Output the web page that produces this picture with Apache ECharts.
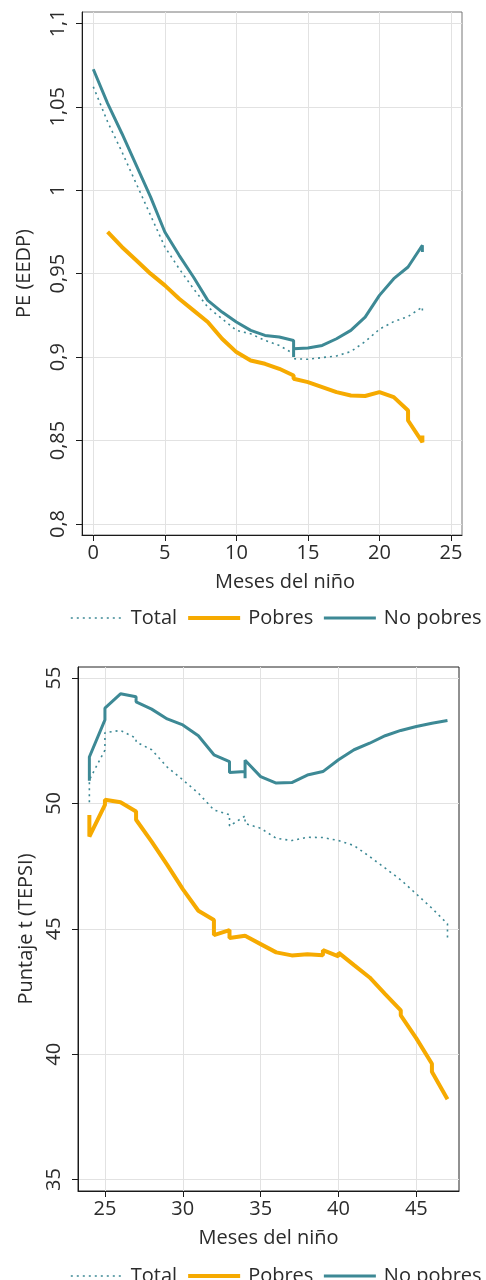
<!DOCTYPE html>
<html>
<head>
<meta charset="utf-8">
<script src="https://cdn.jsdelivr.net/npm/echarts@6/dist/echarts.min.js"></script>
<style>
html,body{margin:0;padding:0;background:#fff;}
#c{width:486px;height:1280px;}
</style>
</head>
<body>
<div id="c"></div>
<script>
// ---------- Top chart: PE (EEDP) ----------
var eedpTotalMonths   = [0,1,2,3,4,5,6,7,8,9,10,11,12,13,14,14,15,16,17,18,19,20,21,22,23,23];
var eedpTotalValues   = [1.062,1.041,1.023,1.004,0.985,0.966,0.953,0.941,0.930,0.923,0.916,0.914,0.910,0.907,0.902,0.899,0.8987,0.8997,0.9007,0.9033,0.9093,0.9167,0.9213,0.9243,0.930,0.9255];
var eedpPobresMonths  = [1,2,3,4,5,6,7,8,9,10,11,12,13,14,14,15,16,17,18,19,20,21,22,22,23,23];
var eedpPobresValues  = [0.975,0.966,0.958,0.950,0.943,0.935,0.928,0.921,0.911,0.903,0.898,0.896,0.893,0.889,0.887,0.885,0.882,0.879,0.877,0.8767,0.879,0.876,0.868,0.862,0.849,0.853];
var eedpNoPobresMonths = [0,1,2,3,4,5,6,7,8,9,10,11,12,13,14,14,14,15,16,17,18,19,20,21,22,23,23];
var eedpNoPobresValues = [1.0725,1.052,1.034,1.015,0.996,0.975,0.961,0.948,0.934,0.927,0.921,0.916,0.913,0.912,0.910,0.900,0.905,0.9055,0.907,0.911,0.916,0.924,0.937,0.947,0.954,0.967,0.963];
var eedpXTicks = [0,5,10,15,20,25];
var eedpYTicks = [0.8,0.85,0.9,0.95,1,1.05,1.1];

// ---------- Bottom chart: Puntaje t (TEPSI) ----------
var tepsiTotalMonths   = [24,24,25,25,26,27,27,28,29,30,31,32,33,33,34,34,35,36,37,38,39,40,41,42,43,44,45,46,47,47];
var tepsiTotalValues   = [50.05,50.94,52.13,52.82,52.91,52.6,52.45,52.14,51.45,50.94,50.41,49.74,49.55,49.1,49.5,49.2,49.01,48.61,48.52,48.65,48.64,48.52,48.32,47.88,47.42,46.95,46.39,45.82,45.2,44.6];
var tepsiPobresMonths  = [24,24,25,25,26,27,27,28,29,30,31,32,32,33,33,34,35,36,37,38,39,39,40,40,41,42,43,44,44,45,46,46,47];
var tepsiPobresValues  = [49.54,48.68,49.94,50.15,50.05,49.68,49.35,48.48,47.55,46.58,45.72,45.35,44.75,44.95,44.63,44.72,44.39,44.06,43.94,43.99,43.95,44.15,43.9,44.05,43.55,43.06,42.40,41.75,41.55,40.63,39.62,39.3,38.2];
var tepsiNoPobresMonths = [24,24,25,25,26,27,27,28,29,30,31,32,33,33,34,34,34,35,36,37,38,39,40,41,42,43,44,45,46,47];
var tepsiNoPobresValues = [50.9,51.85,53.33,53.8,54.37,54.25,54.05,53.76,53.37,53.13,52.7,51.94,51.67,51.23,51.27,51.0,51.72,51.07,50.81,50.83,51.13,51.27,51.74,52.14,52.40,52.7,52.91,53.07,53.2,53.31];
var tepsiXTicks = [25,30,35,40,45];
var tepsiYTicks = [35,40,45,50,55];

var seriesNames = ['Total','Pobres','No pobres'];

var TEAL = '#3d8995';
var ORANGE = '#f6aa00';
var TXT = '#2b2b2b';
var FONT = '"Open Sans", "Noto Sans", sans-serif';
var FS = 20;

function styleFor(name){
  if (name === 'Total') return {color:TEAL, width:1.6, type:[2,4]};
  if (name === 'Pobres') return {color:ORANGE, width:4};
  return {color:TEAL, width:3};
}
function pairs(ms, vs){ return ms.map(function(m,i){ return [m, vs[i]]; }); }
function fmt(v){ return String(+(+v).toFixed(3)).replace('.', ','); }

function xAxisCfg(gi, min, max, ticks, shift){
  return {
    type:'value', gridIndex:gi, min:min, max:max,
    name:'Meses del niño', nameLocation:'middle', nameGap:37,
    nameTextStyle:{color:TXT, fontSize:FS, fontFamily:FONT, padding:[0,0,0,shift]},
    axisLine:{show:true, onZero:false, lineStyle:{color:'#1a1a1a', width:1}},
    axisTick:{show:true, length:6, customValues:ticks, lineStyle:{color:'#1a1a1a'}},
    axisLabel:{customValues:ticks, color:TXT, fontSize:FS, fontFamily:FONT, margin:8},
    splitLine:{show:true, lineStyle:{color:'#e2e2e2', width:1}}
  };
}
function yAxisCfg(gi, min, max, ticks, name, gap){
  return {
    type:'value', gridIndex:gi, min:min, max:max,
    name:name, nameLocation:'middle', nameGap:gap, nameRotate:90,
    nameTextStyle:{color:TXT, fontSize:FS, fontFamily:FONT},
    axisLine:{show:true, onZero:false, lineStyle:{color:'#1a1a1a', width:1}},
    axisTick:{show:true, length:6, customValues:ticks, lineStyle:{color:'#1a1a1a'}},
    axisLabel:{customValues:ticks, rotate:90, color:TXT, fontSize:FS, fontFamily:FONT, margin:14, formatter:fmt},
    splitLine:{show:true, lineStyle:{color:'#e2e2e2', width:1}}
  };
}
function lineSeries(name, gi, data){
  var ls = styleFor(name);
  return {
    type:'line', name:name, xAxisIndex:gi, yAxisIndex:gi, data:data,
    symbol:'none', showSymbol:false, lineStyle:ls, itemStyle:{color:ls.color},
    z: name === 'Total' ? 2 : 3, animation:false
  };
}
function legendCfg(top){
  return {
    data:seriesNames.map(function(n){ var s = styleFor(n); return {name:n, lineStyle:{color:s.color, width:s.width, type:s.type || 'solid'}}; }),
    top:top, left:70, right:0, padding:0, itemWidth:52, itemHeight:14, itemGap:9,
    itemStyle:{opacity:0},
    textStyle:{color:TXT, fontSize:FS, fontFamily:FONT, padding:[0,0,0,3]}, selectedMode:false
  };
}

var chart = echarts.init(document.getElementById('c'), null, {renderer:'canvas'});
chart.setOption({
  animation:false,
  backgroundColor:'#fff',
  grid:[
    {left:82, top:12, width:380, height:523, show:true, borderColor:'#777', borderWidth:1, containLabel:false},
    {left:78, top:667, width:381, height:524, show:true, borderColor:'#222', borderWidth:1, containLabel:false}
  ],
  xAxis:[
    xAxisCfg(0, -0.79, 25.77, eedpXTicks, 26),
    xAxisCfg(1, 23.27, 47.74, tepsiXTicks, 0)
  ],
  yAxis:[
    yAxisCfg(0, 0.7934, 1.1068, eedpYTicks, 'PE (EEDP)', 48),
    yAxisCfg(1, 34.545, 55.44, tepsiYTicks, 'Puntaje t (TEPSI)', 38)
  ],
  legend:[legendCfg(608), legendCfg(1266)],
  series:[
    lineSeries('Total', 0, pairs(eedpTotalMonths, eedpTotalValues)),
    lineSeries('Pobres', 0, pairs(eedpPobresMonths, eedpPobresValues)),
    lineSeries('No pobres', 0, pairs(eedpNoPobresMonths, eedpNoPobresValues)),
    lineSeries('Total', 1, pairs(tepsiTotalMonths, tepsiTotalValues)),
    lineSeries('Pobres', 1, pairs(tepsiPobresMonths, tepsiPobresValues)),
    lineSeries('No pobres', 1, pairs(tepsiNoPobresMonths, tepsiNoPobresValues))
  ]
});
</script>
</body>
</html>
